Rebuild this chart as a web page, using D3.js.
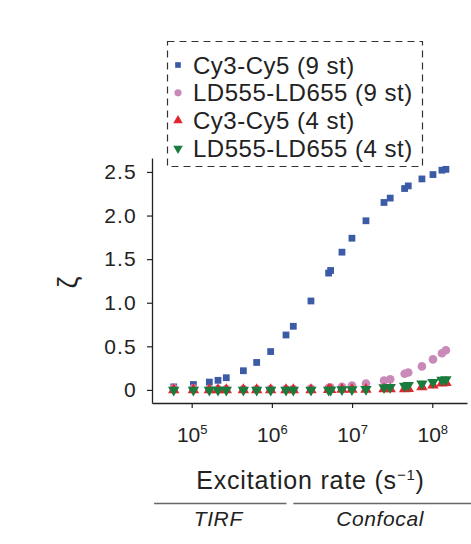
<!DOCTYPE html>
<html>
<head>
<meta charset="utf-8">
<script src="https://cdn.jsdelivr.net/npm/d3@7"></script>
<style>
  body { margin: 0; background: #fff; }
  svg { font-family: "Liberation Sans", Arial, sans-serif; }
</style>
</head>
<body>
<svg id="main-svg" width="471" height="544"></svg>
<script>
// excitation rate (s^-1), shared by all four series
var rates = [5.97e4, 1.05e5, 1.66e5, 2.13e5, 2.70e5, 4.41e5, 6.46e5, 9.66e5,
  1.50e6, 1.85e6, 3.07e6, 5.10e6, 5.40e6, 7.48e6, 9.96e6, 1.49e7,
  2.50e7, 2.99e7, 4.52e7, 5.02e7, 7.43e7, 1.02e8, 1.32e8, 1.48e8];

var cy9 = [0.035, 0.062, 0.09, 0.11, 0.14, 0.22, 0.315, 0.44, 0.63, 0.73, 1.02, 1.34,
  1.37, 1.58, 1.74, 1.94, 2.15, 2.20, 2.31, 2.34, 2.42, 2.47, 2.52, 2.53];
var ld9 = [0.02, 0.02, 0.01, 0.01, 0.01, 0.01, 0.01, 0.01, 0.01, 0.01, 0.015, 0.025,
  0.027, 0.035, 0.05, 0.074, 0.107, 0.122, 0.185, 0.2, 0.27, 0.35, 0.42, 0.455];
var cy4 = [0, 0, 0, 0, 0, 0, 0, 0, 0, 0, 0, 0.003,
  0.003, 0.005, 0.005, 0.005, 0.01, 0.01, 0.012, 0.015, 0.035, 0.053, 0.076, 0.084];
var ld4 = [0, 0, 0, 0, 0, 0, 0, 0, 0, 0, 0, 0,
  0, 0.005, 0.005, 0.008, 0.028, 0.03, 0.046, 0.053, 0.069, 0.088, 0.113, 0.118];

var seriesNames = ["Cy3-Cy5 (9 st)", "LD555-LD655 (9 st)", "Cy3-Cy5 (4 st)", "LD555-LD655 (4 st)"];
var yTicks = [0, 0.5, 1.0, 1.5, 2.0, 2.5];
var xTicks = [1e5, 1e6, 1e7, 1e8];
var regionNames = ["TIRF", "Confocal"];
var regionStart = [3.4e4, 1.85e6];
var regionEnd = [1.52e6, 3.3e8];

//Marker style for each series
var styles = [
  {sym: d3.symbolSquare, size: 46, rot: 0, color: "#3b5ba7"},
  {sym: d3.symbolCircle, size: 58, rot: 0, color: "#c98ab9"},
  {sym: d3.symbolTriangle, size: 56, rot: 0, color: "#e1262d"},
  {sym: d3.symbolTriangle, size: 56, rot: 180, color: "#1b7b3d"}
];
var allSeries = [cy9, ld9, cy4, ld4];

var svg = d3.select('#main-svg');

var x = d3.scaleLog().domain([3.2e4, 2.71e8]).range([152, 467]);
var y = d3.scaleLinear().domain([-0.15, 2.66]).range([403, 158]);

// Axes
var yAxis = svg.append('g').attr('transform', 'translate(152,0)')
  .call(d3.axisLeft(y).tickValues(yTicks).tickSize(5).tickSizeOuter(0).tickPadding(10)
    .tickFormat((d) => d === 0 ? "0" : d3.format(".1f")(d)));
var xAxis = svg.append('g').attr('transform', 'translate(0,403)')
  .call(d3.axisBottom(x).tickValues(xTicks).tickSize(5).tickSizeOuter(0).tickPadding(19)
    .tickFormat(() => ""));

[yAxis, xAxis].forEach((a) => {
  a.select('.domain').attr('stroke', '#222').attr('stroke-width', 1.3);
  a.selectAll('.tick line').attr('stroke', '#222').attr('stroke-width', 1.2);
});
yAxis.selectAll('.tick text').attr('font-size', 21).attr('fill', '#222')
  .attr('letter-spacing', 1.2);

// power-of-ten labels with superscripts
var xLab = xAxis.selectAll('.tick text').attr('font-size', 21).attr('fill', '#222');
xLab.append('tspan').text('10');
xLab.append('tspan').attr('dy', '-0.62em').attr('font-size', 13)
  .text((d) => Math.round(Math.log10(d)));

// Axis titles
svg.append('text')
  .attr('transform', `translate(77,${(y(-0.15) + y(2.66)) / 2 + 2}) rotate(-90)`)
  .attr('text-anchor', 'middle')
  .attr('font-size', 27)
  .attr('fill', '#222')
  .text('ζ');

var xt = svg.append('text')
  .attr('x', (x.range()[0] + x.range()[1]) / 2 + 1)
  .attr('y', 489)
  .attr('text-anchor', 'middle')
  .attr('font-size', 25)
  .attr('letter-spacing', 0.8)
  .attr('fill', '#222');
xt.append('tspan').text('Excitation rate (s');
xt.append('tspan').attr('dy', '-0.6em').attr('font-size', 15).text('−1');
xt.append('tspan').attr('dy', '0.36em').text(')');

// TIRF / Confocal brackets
var regions = svg.append('g').selectAll('g').data(regionNames).enter().append('g');
regions.append('line')
  .attr('x1', (d, i) => x(regionStart[i]))
  .attr('x2', (d, i) => x(regionEnd[i]))
  .attr('y1', 503.5).attr('y2', 503.5)
  .attr('stroke', '#666').attr('stroke-width', 1.5);
regions.append('text')
  .attr('x', (d, i) => (x(regionStart[i]) + Math.min(x(regionEnd[i]), 471)) / 2 - 2)
  .attr('y', 526)
  .attr('text-anchor', 'middle')
  .attr('font-size', 21)
  .attr('font-style', 'italic')
  .attr('letter-spacing', 0.6)
  .attr('fill', '#222')
  .text((d) => d);

// Data points
var points = svg.append('g');
allSeries.forEach((vals, s) => {
  var st = styles[s];
  points.append('g').selectAll('path').data(vals).enter().append('path')
    .attr('d', d3.symbol().type(st.sym).size(st.size))
    .attr('transform', (d, i) => `translate(${x(rates[i])},${y(d)}) rotate(${st.rot})`)
    .attr('fill', st.color);
});

// Legend
var legend = svg.append('g');
legend.append('rect')
  .attr('x', 167.5).attr('y', 41.5).attr('width', 255).attr('height', 125)
  .attr('fill', '#fff').attr('fill-opacity', 0.8)
  .attr('stroke', '#333').attr('stroke-width', 1.2).attr('stroke-dasharray', '7,5');
var rows = legend.selectAll('g.row').data(seriesNames).enter().append('g')
  .attr('class', 'row')
  .attr('transform', (d, i) => `translate(178,${65 + i * 27.8})`);
rows.append('path')
  .attr('d', (d, i) => d3.symbol().type(styles[i].sym).size(styles[i].size * 0.7)())
  .attr('transform', (d, i) => `rotate(${styles[i].rot})`)
  .attr('fill', (d, i) => styles[i].color);
rows.append('text')
  .attr('x', 15)
  .attr('dy', '0.36em')
  .attr('font-size', 24)
  .attr('letter-spacing', 0.5)
  .attr('fill', '#222')
  .text((d) => d);
</script>
</body>
</html>
